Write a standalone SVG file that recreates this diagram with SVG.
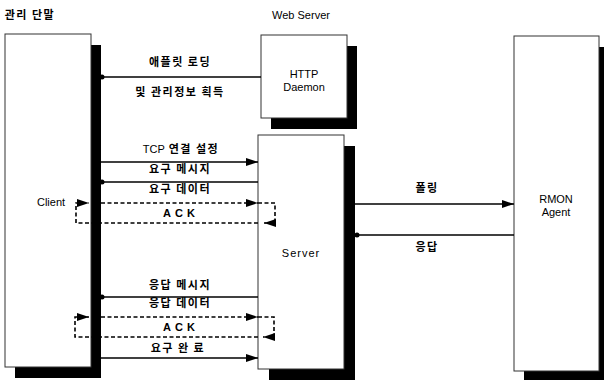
<svg xmlns="http://www.w3.org/2000/svg" width="604" height="380" viewBox="0 0 604 380">
<style>
.box{fill:#fff;stroke:#333;stroke-width:1}
.sh{fill:#000}
.ln{fill:none;stroke:#000;stroke-width:1.3}
.ds{fill:none;stroke:#000;stroke-width:1.6;stroke-dasharray:4 2.5}
.kr{font-family:"Noto Sans CJK KR","Liberation Sans",sans-serif;font-size:11px;font-weight:bold;fill:#000;text-anchor:middle;letter-spacing:1.5px}
.en{font-family:"Liberation Sans",Arial,sans-serif;font-size:11px;fill:#000;text-anchor:middle}
</style>
<defs>
<marker id="ar" viewBox="0 0 12 8" refX="12" refY="4" markerUnits="userSpaceOnUse" markerWidth="12" markerHeight="8" orient="auto">
<path d="M0,0 L12,4 L0,8 z" fill="#000"/>
</marker>
</defs>
<rect width="604" height="380" fill="#fff"/>
<text class="kr" x="30" y="19" letter-spacing="0.5">관리 단말</text>
<text class="en" x="301" y="19">Web Server</text>
<g id="client">
<rect class="sh" x="15" y="45" width="86" height="333"/>
<rect class="box" x="5" y="34" width="86" height="333"/>
<text class="en" x="51" y="206">Client</text>
</g>
<g id="http">
<rect class="sh" x="271" y="46" width="86" height="83"/>
<rect class="box" x="261" y="35" width="86" height="83"/>
<text class="en" x="304" y="78">HTTP</text>
<text class="en" x="304" y="91">Daemon</text>
</g>
<g id="server">
<rect class="sh" x="269" y="146" width="86" height="234"/>
<rect class="box" x="258" y="135" width="86" height="234"/>
<text class="en" x="301" y="257" letter-spacing="1">Server</text>
</g>
<g id="rmon">
<rect class="sh" x="524" y="47" width="85" height="335"/>
<rect class="box" x="514" y="36" width="85" height="335"/>
<text class="en" x="556" y="203">RMON</text>
<text class="en" x="556" y="216">Agent</text>
</g>
<g id="connectors">
<line class="ln" x1="102" y1="77" x2="261" y2="77"/>
<circle cx="102" cy="77" r="2.5"/>
<line class="ln" x1="101" y1="162" x2="258" y2="162" marker-end="url(#ar)"/>
<line class="ln" x1="102" y1="182" x2="258" y2="182"/>
<circle cx="102" cy="182" r="2.5"/>
<line class="ds" x1="101" y1="203" x2="258" y2="203" marker-end="url(#ar)"/>
<path class="ds" d="M258,203 H275 V223 H264" marker-end="url(#ar)"/>
<path class="ds" d="M258,223 H76 V203 H89" marker-end="url(#ar)"/>
<line class="ln" x1="102" y1="297" x2="258" y2="297"/>
<circle cx="102" cy="297" r="2.5"/>
<line class="ds" x1="101" y1="317" x2="258" y2="317" marker-end="url(#ar)"/>
<path class="ds" d="M258,317 H274 V337 H263" marker-end="url(#ar)"/>
<path class="ds" d="M258,337 H75 V317 H89" marker-end="url(#ar)"/>
<line class="ln" x1="101" y1="358" x2="258" y2="358" marker-end="url(#ar)"/>
<line class="ln" x1="355" y1="204" x2="514" y2="204" marker-end="url(#ar)"/>
<line class="ln" x1="357" y1="235" x2="514" y2="235"/>
<circle cx="357" cy="235" r="2.5"/>
</g>
<g id="labels">
<text class="kr" x="180" y="66">애플릿 로딩</text>
<text class="kr" x="180" y="96">및 관리정보 획득</text>
<text class="kr" x="181" y="153"><tspan font-family="Liberation Sans, sans-serif" font-weight="normal" letter-spacing="0">TCP</tspan> 연결 설정</text>
<text class="kr" x="180" y="173">요구 메시지</text>
<text class="kr" x="180" y="193">요구 데이터</text>
<text class="en" x="181" y="217" font-weight="bold" letter-spacing="4">ACK</text>
<text class="kr" x="180" y="289">응답 메시지</text>
<text class="kr" x="180" y="307">응답 데이터</text>
<text class="en" x="181" y="331" font-weight="bold" letter-spacing="4">ACK</text>
<text class="kr" x="178" y="352">요구 완 료</text>
<text class="kr" x="427" y="192">폴링</text>
<text class="kr" x="427" y="251">응답</text>
</g>
</svg>
